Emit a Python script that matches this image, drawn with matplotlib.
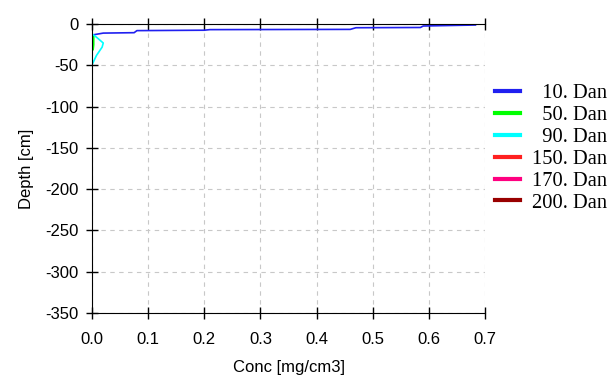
import matplotlib
matplotlib.use("Agg")
import matplotlib.pyplot as plt

# profiles (conc mg/cm3, depth cm)
conc_10 = [0.001, 0.003, 0.02, 0.075, 0.08, 0.2, 0.21, 0.46, 0.47, 0.585, 0.59, 0.683]
depth_10 = [-15, -13, -11, -10.5, -8, -7.5, -6.8, -6.5, -4.5, -4.2, -2.4, -1.2]
conc_50 = [0.003, 0.003, 0.002]
depth_50 = [-15, -25, -31]
conc_90 = [0.002, 0.008, 0.02, 0.018, 0.008, 0.001]
depth_90 = [-13, -16, -23, -28, -38, -48]
conc_150 = []
depth_150 = []
conc_170 = []
depth_170 = []
conc_200 = []
depth_200 = []

labels = ['  10. Dan', '  50. Dan', '  90. Dan', '150. Dan', '170. Dan', '200. Dan']
colors = ['#2020f0', '#00ff00', '#00ffff', '#ff2020', '#ff0080', '#990000']

plt.rcParams['font.family'] = 'Liberation Sans'
plt.rcParams['axes.unicode_minus'] = False
fig = plt.figure(figsize=(6.11, 3.8), dpi=100)
ax = fig.add_axes([0.1506, 0.1763, 0.6432, 0.7605])

series = [(conc_10, depth_10), (conc_50, depth_50), (conc_90, depth_90),
          (conc_150, depth_150), (conc_170, depth_170), (conc_200, depth_200)]
handles = []
for (c, d), col, lab in zip(series, colors, labels):
    h, = ax.plot(c, d, color=col, lw=1.2, label=lab)
    handles.append(h)

ax.set_xlim(0, 0.7)
ax.set_ylim(-350, 0)
ax.set_xticks([0, 0.1, 0.2, 0.3, 0.4, 0.5, 0.6, 0.7])
ax.set_xticklabels(['0.0', '0.1', '0.2', '0.3', '0.4', '0.5', '0.6', '0.7'])
ax.set_yticks(range(-350, 1, 50))
ax.grid(True, ls=(0, (4, 4)), color='#c8c8c8', lw=0.8)
ax.spines['right'].set_visible(False)
ax.tick_params(direction='inout', length=8, width=1, labelsize=12, top=True, pad=6)
ax.tick_params(axis='x', labeltop=False, pad=10)
ax.set_xlabel('Conc [mg/cm3]', fontsize=12, labelpad=9)
ax.set_ylabel('Depth [cm]', fontsize=12, labelpad=8)

leg = fig.legend(handles=handles, loc='upper left', bbox_to_anchor=(0.810, 0.779),
                 frameon=False, prop={'family': 'Liberation Serif', 'size': 14.8},
                 handlelength=1.22, handletextpad=0.6, labelspacing=0.12,
                 borderaxespad=0, borderpad=0)
for line in leg.get_lines():
    line.set_linewidth(3)

fig.savefig('out.png', dpi=100)
